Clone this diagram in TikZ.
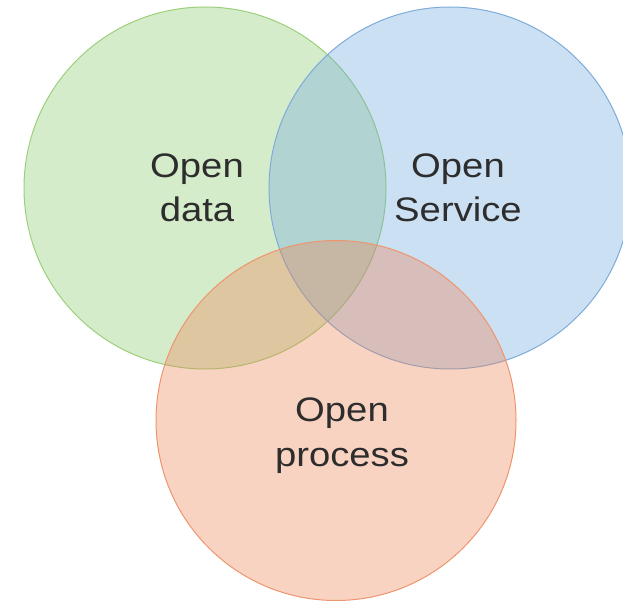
\documentclass[tikz,border=0pt]{standalone}
\usepackage{fontspec}
\setmainfont{Liberation Sans}[FakeStretch=1.125]
\usetikzlibrary{positioning}

\definecolor{datafill}{RGB}{135,201,106}
\definecolor{dataline}{RGB}{155,208,122}
\definecolor{servfill}{RGB}{109,166,221}
\definecolor{servline}{RGB}{125,172,218}
\definecolor{procfill}{RGB}{238,129,81}
\definecolor{procline}{RGB}{238,148,110}
\definecolor{labeltext}{RGB}{45,45,45}

\tikzset{
  venn/.style = {circle, minimum size=362pt, inner sep=0pt, line width=1pt, fill opacity=.35},
  lbl/.style = {align=center, text=labeltext, inner sep=0pt,
                font=\fontsize{34}{44.5}\selectfont}
}

\begin{document}
\begin{tikzpicture}[x=1pt, y=-1pt]
\useasboundingbox (0,0) rectangle (623,601);
\clip (0,0) rectangle (623,601);
\node[venn, fill=datafill, draw=dataline] (data) at (205,188) {};
\node[venn, fill=servfill, draw=servline] (serv) at (450,188) {};
\node[venn, fill=procfill, draw=procline, minimum size=360pt] (proc) at (336,420.5) {};
% labels
\node[lbl] (datalbl) at ([xshift=-8pt]data.center) {Open\\data};
\node[lbl] (servlbl) at ([xshift=8pt]serv.center) {Open\\Service};
\node[lbl] (proclbl) at ([xshift=6pt, yshift=-15pt]proc.center) {Open\\process};
\end{tikzpicture}
\end{document}
